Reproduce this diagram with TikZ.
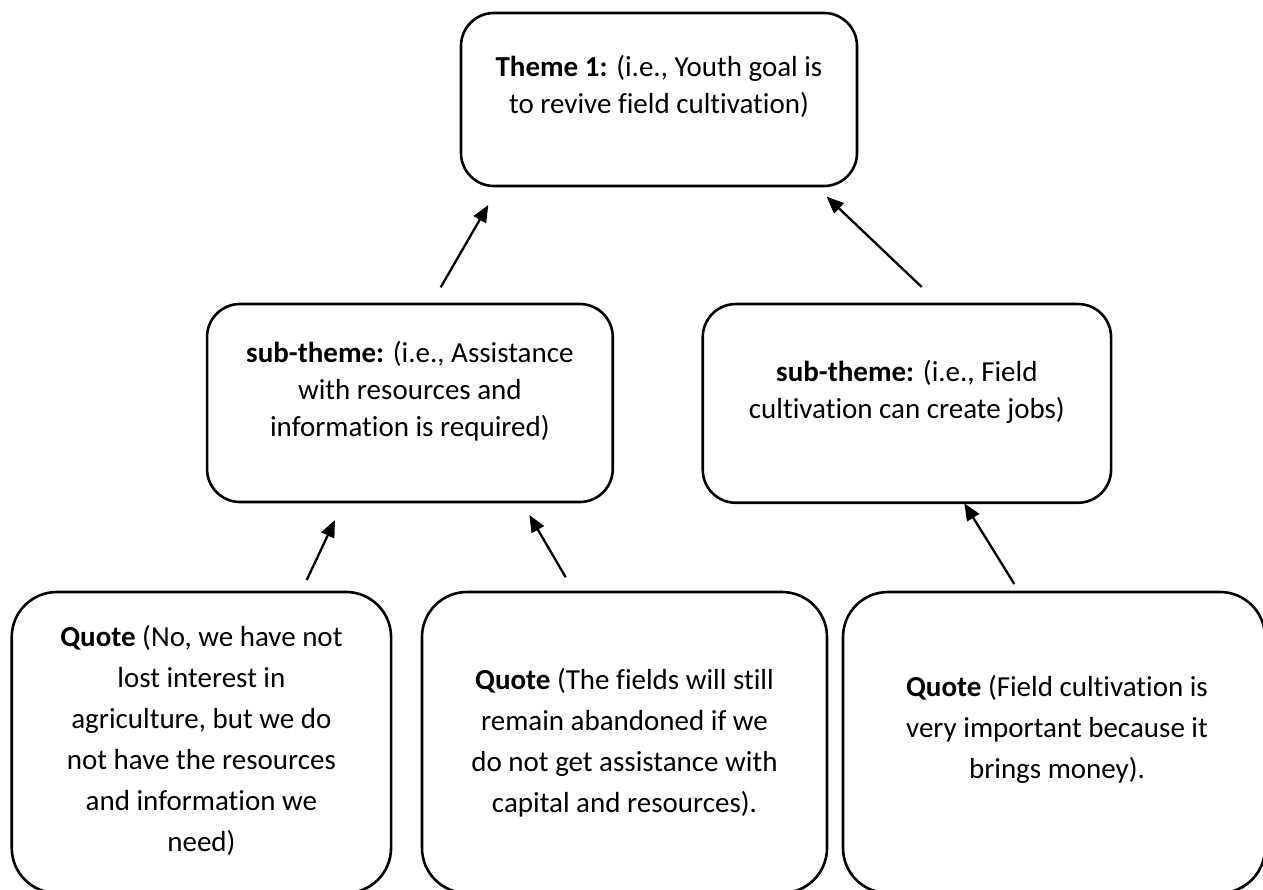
\documentclass[tikz,border=0pt]{standalone}
\usepackage{fontspec}
\setmainfont{Carlito}[Ligatures={NoCommon,NoContextual}]
\usetikzlibrary{arrows.meta}
\tikzset{
  box/.style={draw=black, line width=2.6pt, rounded corners=33pt, inner sep=0pt, outer sep=0pt},
  qbox/.style={draw=black, line width=2.6pt, rounded corners=45pt, inner sep=0pt, outer sep=0pt},
  ttext/.style={align=center, inner sep=0pt, font=\fontsize{29}{37}\selectfont},
  qtext/.style={align=center, inner sep=0pt, font=\fontsize{29}{41}\selectfont},
  arr/.style={line width=2.3pt, -{Triangle[length=17pt,width=14pt]}}
}
\begin{document}
\begin{tikzpicture}[x=1pt,y=-1pt]
\useasboundingbox (0,0) rectangle (1263,890);
\fill[white] (0,0) rectangle (1263,890);
% boxes
\node[box, minimum width=396pt, minimum height=173pt] (theme) at (659,99.5) {};
\node[box, minimum width=405.7pt, minimum height=198pt] (subA) at (409.9,403) {};
\node[box, minimum width=408.3pt, minimum height=198.7pt] (subB) at (906.9,403.4) {};
\node[qbox, minimum width=379.3pt, minimum height=301pt] (q1) at (201.4,742.5) {};
\node[qbox, minimum width=405pt, minimum height=301pt] (q2) at (624.5,742.5) {};
\node[qbox, minimum width=422pt, minimum height=301pt] (q3) at (1054,742.5) {};
% texts
\node[ttext] (themeT) at (659,86) {\textbf{Theme 1:} (i.e., Youth goal is\\to revive field cultivation)};
\node[ttext] (subAT) at (409.9,391.5) {\textbf{sub-theme:} (i.e., Assistance\\with resources and\\information is required)};
\node[ttext] (subBT) at (906.9,392) {\textbf{sub-theme:} (i.e., Field\\cultivation can create jobs)};
\node[qtext] (q1T) at (201.4,740) {\textbf{Quote} (No, we have not\\lost interest in\\agriculture, but we do\\not have the resources\\and information we\\need)};
\node[qtext] (q2T) at (624.5,742.5) {\textbf{Quote} (The fields will still\\remain abandoned if we\\do not get assistance with\\capital and resources).};
\node[qtext] (q3T) at (1057,729.5) {\textbf{Quote} (Field cultivation is\\very important because it\\brings money).};
% arrow end points
\coordinate (a1s) at (440.7,287.3);
\coordinate (a1e) at (488.3,205);
\coordinate (a2s) at (921.7,287);
\coordinate (a2e) at (826.7,196.7);
\coordinate (a3s) at (306.7,580);
\coordinate (a3e) at (335,520);
\coordinate (a4s) at (565.7,577.3);
\coordinate (a4e) at (529.3,515);
\coordinate (a5s) at (1014.3,584);
\coordinate (a5e) at (964.3,503.3);
\draw[arr] (a1s) -- (a1e);
\draw[arr] (a2s) -- (a2e);
\draw[arr] (a3s) -- (a3e);
\draw[arr] (a4s) -- (a4e);
\draw[arr] (a5s) -- (a5e);
\end{tikzpicture}
\end{document}
